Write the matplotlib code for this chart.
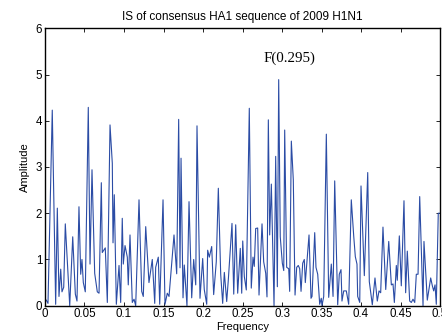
import matplotlib
matplotlib.use("Agg")
import matplotlib.pyplot as plt
import numpy as np

title = "IS of consensus HA1 sequence of 2009 H1N1"
xlabel = "Frequency"
ylabel = "Amplitude"
peak_label = "F(0.295)"
xticks = [0, 0.05, 0.1, 0.15, 0.2, 0.25, 0.3, 0.35, 0.4, 0.45, 0.5]
xticklabels = ["0", "0.05", "0.1", "0.15", "0.2", "0.25", "0.3", "0.35", "0.4", "0.45", "0.5"]
yticks = [0, 1, 2, 3, 4, 5, 6]

freq = [0.0016, 0.0038, 0.0092, 0.0135, 0.0156, 0.0177, 0.0199, 0.0215, 0.0237, 0.0257,
        0.0313, 0.0351, 0.0384, 0.0405, 0.0430, 0.0452, 0.0468, 0.0485, 0.0510, 0.0548,
        0.0570, 0.0595, 0.0629, 0.0662, 0.0684, 0.0713, 0.0725, 0.0763, 0.0789, 0.0823,
        0.0852, 0.0861, 0.0877, 0.0903, 0.0937, 0.0958, 0.0978, 0.0991, 0.1013, 0.1042,
        0.1054, 0.1076, 0.1105, 0.1127, 0.1148, 0.1190, 0.1224, 0.1244, 0.1275, 0.1316,
        0.1358, 0.1389, 0.1401, 0.1434, 0.1452, 0.1494, 0.1519, 0.1548, 0.1570, 0.1633,
        0.1667, 0.1692, 0.1709, 0.1722, 0.1747, 0.1763, 0.1797, 0.1823, 0.1857, 0.1882,
        0.1908, 0.1924, 0.1962, 0.1996, 0.2016, 0.2047, 0.2059, 0.2080, 0.2110, 0.2135,
        0.2168, 0.2194, 0.2224, 0.2249, 0.2270, 0.2300, 0.2320, 0.2367, 0.2389, 0.2414,
        0.2439, 0.2472, 0.2490, 0.2503, 0.2523, 0.2548, 0.2586, 0.2611, 0.2633, 0.2649,
        0.2667, 0.2692, 0.2709, 0.2747, 0.2768, 0.2794, 0.2810, 0.2827, 0.2844, 0.2865,
        0.2899, 0.2920, 0.2941, 0.2958, 0.2978, 0.3004, 0.3022, 0.3034, 0.3059, 0.3085,
        0.3097, 0.3118, 0.3143, 0.3165, 0.3186, 0.3206, 0.3224, 0.3241, 0.3262, 0.3282,
        0.3295, 0.3342, 0.3367, 0.3380, 0.3414, 0.3430, 0.3452, 0.3477, 0.3497, 0.3506,
        0.3528, 0.3561, 0.3591, 0.3624, 0.3646, 0.3667, 0.3705, 0.3725, 0.3747, 0.3759,
        0.3781, 0.3814, 0.3844, 0.3877, 0.3908, 0.3928, 0.3949, 0.3958, 0.3984, 0.4000,
        0.4042, 0.4085, 0.4105, 0.4143, 0.4177, 0.4206, 0.4228, 0.4249, 0.4278, 0.4313,
        0.4351, 0.4384, 0.4405, 0.4422, 0.4447, 0.4459, 0.4485, 0.4510, 0.4544, 0.4565,
        0.4586, 0.4616, 0.4637, 0.4658, 0.4680, 0.4700, 0.4722, 0.4743, 0.4785, 0.4797,
        0.4839, 0.4882, 0.4903, 0.4920, 0.4937, 0.4953, 0.4978, 0.5000]

amplitude = [0.12, 0.05, 4.23, 0.03, 2.11, 0.20, 0.79, 0.30, 0.40, 1.77,
             0.00, 1.49, 0.25, 0.10, 2.14, 0.68, 1.00, 0.50, 0.30, 4.29,
             0.90, 2.94, 0.70, 0.30, 0.27, 2.66, 1.15, 1.25, 0.07, 3.91,
             3.08, 1.36, 2.40, 0.03, 0.87, 0.07, 1.89, 0.90, 1.30, 1.05,
             0.45, 1.53, 0.07, 0.14, 0.00, 2.29, 0.31, 0.20, 1.71, 0.50,
             1.00, 0.05, 0.83, 1.05, 0.03, 2.29, 0.03, 0.27, 0.20, 1.53,
             0.69, 4.03, 0.82, 3.19, 0.17, 0.88, 0.00, 2.25, 0.17, 1.00,
             0.45, 3.89, 0.16, 1.02, 0.35, 0.03, 1.20, 1.05, 1.28, 0.24,
             0.95, 2.54, 0.68, 0.05, 0.72, 0.09, 0.55, 1.78, 0.25, 1.75,
             0.27, 1.24, 0.27, 1.40, 0.63, 0.34, 4.27, 0.38, 1.05, 0.85,
             1.67, 1.68, 0.23, 1.77, 0.95, 0.70, 0.19, 4.02, 1.53, 2.63,
             0.00, 3.23, 0.41, 4.89, 1.49, 0.92, 0.76, 3.80, 0.83, 0.80,
             0.31, 3.56, 2.72, 0.23, 0.83, 0.87, 0.80, 0.31, 0.92, 1.00,
             0.50, 1.53, 0.16, 0.20, 1.58, 0.83, 0.68, 0.03, 0.16, 0.00,
             0.20, 3.71, 0.18, 0.90, 0.20, 2.70, 0.02, 0.68, 0.78, 0.10,
             0.32, 0.32, 0.03, 2.29, 1.50, 1.06, 0.90, 0.20, 0.07, 2.59,
             0.65, 2.88, 0.52, 0.02, 0.60, 0.10, 0.32, 0.28, 1.70, 0.35,
             1.39, 0.45, 0.47, 0.07, 0.87, 0.55, 1.51, 0.43, 2.27, 0.28,
             1.18, 0.10, 0.07, 0.14, 0.07, 0.68, 0.68, 2.36, 0.00, 1.39,
             0.12, 0.60, 0.43, 0.32, 0.45, 0.03, 2.00, 2.00]

plt.rcParams['font.family'] = ['Liberation Sans', 'DejaVu Sans']

fig = plt.figure(figsize=(4.42, 3.35), dpi=100)
ax = fig.add_axes([0.1018, 0.0875, 0.8937, 0.828])
ax.plot(freq, amplitude, color='#2b4ca5', linewidth=0.8)
ax.set_xlim(0, 0.5)
ax.set_ylim(0, 6)
ax.set_xticks(xticks)
ax.set_xticklabels(xticklabels)
ax.set_yticks(yticks)
ax.tick_params(direction='in', length=3, width=0.6, top=True, right=True,
               labelsize=8.3, pad=2)
for s in ax.spines.values():
    s.set_linewidth(1.0)
ax.set_title(title, fontsize=8.5, pad=6)
ax.set_xlabel(xlabel, fontsize=8, labelpad=1)
ax.set_ylabel(ylabel, fontsize=8, labelpad=4)
ax.text(0.309, 5.36, peak_label, fontsize=10.8, family='Liberation Serif',
        ha='center', va='center')

fig.savefig("out.png", dpi=100)
